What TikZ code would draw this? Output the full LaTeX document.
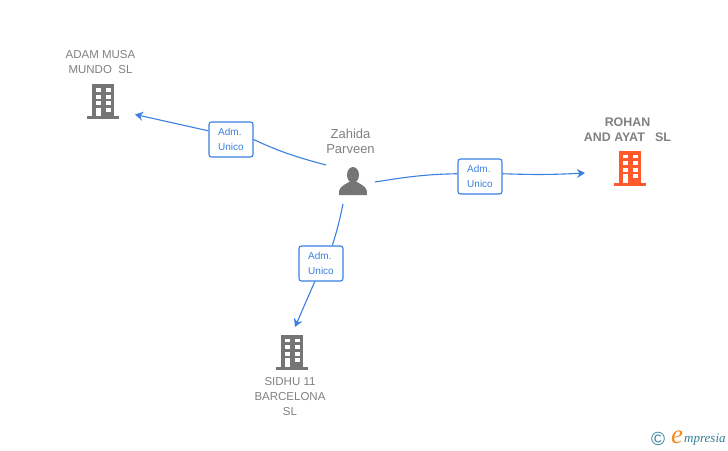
\documentclass[tikz,border=0pt]{standalone}
\usepackage{fontspec}
\setmainfont{Liberation Sans}
\newfontfamily\logofont{Liberation Serif}
\usetikzlibrary{arrows.meta, positioning}
\definecolor{linkblue}{HTML}{3A80E0}
\definecolor{iconorange}{HTML}{FF5A2B}
\definecolor{icongray}{HTML}{757575}
\definecolor{textgray}{HTML}{808080}
\definecolor{logoteal}{HTML}{2F7F98}
\definecolor{logoorange}{HTML}{F08A1D}
\tikzset{
  building/.pic = {
    \fill[#1] (-11,-17.5) rectangle (11,15);
    \fill[#1] (-16,14.5) rectangle (16,17.5);
    \foreach \row in {0,1,2,3} {
      \fill[white] (2.5,-13.5+6.6*\row) rectangle (7.5,-9.6+6.6*\row);
    }
    \foreach \row in {0,1,2} {
      \fill[white] (-7.5,-13.5+6.6*\row) rectangle (-2.5,-9.6+6.6*\row);
    }
    \fill[white] (-7.5,6.4) rectangle (-2.5,14.5);
  },
  person/.pic = {
    \fill[#1] (0,-6) ellipse (6 and 8);
    \fill[#1] (-14,14) .. controls (-14.5,7) and (-12,5.5) .. (-4,1) -- (4,1)
      .. controls (12,5.5) and (14.5,7) .. (14,14) -- cycle;
  }
}
\begin{document}
\begin{tikzpicture}[x=1pt, y=-1pt,
  icon/.style = {minimum width=#1, minimum height=50, inner sep=0, outer sep=0},
  adm/.style = {draw=linkblue, fill=white, rounded corners=2.5, line width=1.1, minimum width=44, minimum height=35, inner sep=0, align=left, text=linkblue, font=\fontsize{10}{15}\selectfont},
  caption/.style = {text=textgray, align=center, inner sep=0, font=\fontsize{11.5}{15}\selectfont},
  link/.style = {draw=linkblue, line width=1.1},
  linkto/.style = {link, -{Stealth[length=8, width=9, inset=2.5]}}]
\useasboundingbox (0,0) rectangle (728,450);

\node[icon=64] (adam) at (103,101.5) {};
\node[icon=90] (rohan) at (630,168) {};
\node[icon=40] (sidhu) at (292,352) {};
\node[icon=40] (zahida) at (353,181) {};
\pic at (adam) {building=icongray};
\pic at (rohan) {building=iconorange};
\pic at (sidhu) {building=icongray};
\pic at (zahida) {person=icongray};

\coordinate (zahidaW) at (326,165);
\coordinate (zahidaE) at (375,182);
\coordinate (zahidaS) at (343,204);

\node[adm] (adm1) at (231,139.5) {Adm.\\Unico};
\node[adm] (adm2) at (480,176.5) {Adm.\\Unico};
\node[adm] (adm3) at (321,263.5) {Adm.\\Unico};

\node[caption] (adamname) at (100.5,62.5) {ADAM MUSA\\MUNDO\ \ SL};
\node[caption, font=\fontsize{12.4}{15}\selectfont\bfseries] (rohanname) at (627.5,129.5) {ROHAN\\AND AYAT\ \ \ SL};
\node[caption] (sidhuname) at (290,397) {SIDHU 11\\BARCELONA\\SL};
\node[caption, font=\fontsize{13}{15}\selectfont] (zahidaname) at (350.5,141.5) {Zahida\\Parveen};

\draw[link] (zahidaW) to [out=165,in=-25] (adm1.east);
\draw[linkto] (adm1.159) -- (adam.-22);
\draw[link] (zahidaE) to [out=9,in=181] (adm2.173);
\draw[linkto] (adm2.7) to [out=-2,in=183] (rohan.west |- 585,173);
\draw[link] (zahidaS) to [out=-102,in=72] (adm3.58);
\draw[linkto] (adm3.251) -- (sidhu.north -| 295,327);

\node[text=logoteal, inner sep=0, font=\fontsize{19}{19}\selectfont] (logoc) at (658,438.5) {©};
\node[text=logoorange, inner sep=0, font=\logofont\itshape\fontsize{27}{27}\selectfont] (logoe) at (677,437) {e};
\node[text=logoteal, inner sep=0, anchor=west, font=\logofont\itshape\fontsize{13}{14}\selectfont] (logotext) at (684,440) {mpresia};
\end{tikzpicture}
\end{document}
